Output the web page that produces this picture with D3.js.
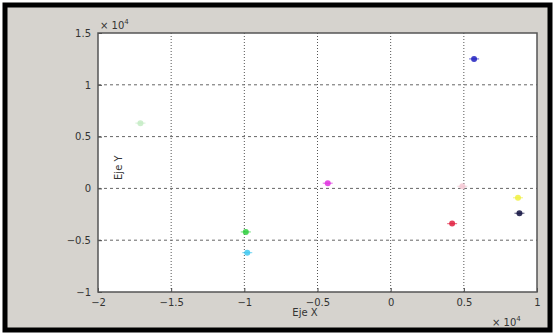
<!DOCTYPE html>
<html>
<head>
<meta charset="utf-8">
<script src="https://cdn.jsdelivr.net/npm/d3@7"></script>
<style>
  body { margin: 0; background: #fff; }
  text { font-family: "DejaVu Sans", Arial, sans-serif; fill: #333; }
</style>
</head>
<body>
<div id="chart"></div>
<script>
/* point positions in units of 1e4 */
var xVals = [-1.71, 0.57, -0.99, -0.98, -0.43, 0.49, 0.42, 0.87, 0.88];
var yVals = [0.63, 1.25, -0.42, -0.62, 0.05, 0.02, -0.34, -0.09, -0.24];
var colors = ["#c4ecc4", "#2020c0", "#30d040", "#40c8f0", "#e030e0", "#f4c8d4", "#e02040", "#f0f040", "#101040"];
var xTicks = [-2, -1.5, -1, -0.5, 0, 0.5, 1];
var yTicks = [-1, -0.5, 0, 0.5, 1, 1.5];

var W = 555, H = 333;
var margin = {top: 33, right: 18, bottom: 41, left: 98};

function translate(x, y) {
    return "translate(" + x + "," + y + ")";
}

var svg = d3.select("#chart").append("svg")
    .attr("width", W).attr("height", H);

/* gray window with black frame */
svg.append("rect")
    .attr("x", 5).attr("y", 5).attr("width", W - 10).attr("height", H - 8)
    .attr("fill", "#d6d3ce").attr("stroke", "#000").attr("stroke-width", 5);

var x = d3.scaleLinear().domain([-2, 1]).range([margin.left, W - margin.right]);
var y = d3.scaleLinear().domain([-1, 1.5]).range([H - margin.bottom, margin.top]);

svg.append("rect")
    .attr("x", x(-2)).attr("y", y(1.5))
    .attr("width", x(1) - x(-2)).attr("height", y(-1) - y(1.5))
    .attr("fill", "#fff");

/* grid */
svg.append("g").selectAll("line")
    .data(xTicks.slice(1, -1))
  .enter().append("line")
    .attr("x1", function(d) { return x(d); }).attr("x2", function(d) { return x(d); })
    .attr("y1", y(1.5)).attr("y2", y(-1))
    .attr("stroke", "#555").attr("stroke-dasharray", "1,2");

svg.append("g").selectAll("line")
    .data(yTicks.slice(1, -1))
  .enter().append("line")
    .attr("y1", function(d) { return y(d); }).attr("y2", function(d) { return y(d); })
    .attr("x1", x(-2)).attr("x2", x(1))
    .attr("stroke", "#666").attr("stroke-dasharray", "3,3");

/* axes */
var fmt = function(d) { return d3.format("")(d); };
svg.append("g")
    .attr("transform", translate(0, y(-1)))
    .call(d3.axisBottom(x).tickValues(xTicks).tickFormat(fmt).tickSize(-4).tickPadding(7))
    .call(function(g) { g.select(".domain").remove(); })
    .call(function(g) { g.selectAll("text").style("font-size", "10px"); });

svg.append("g")
    .attr("transform", translate(x(-2), 0))
    .call(d3.axisLeft(y).tickValues(yTicks).tickFormat(fmt).tickSize(-4).tickPadding(7))
    .call(function(g) { g.select(".domain").remove(); })
    .call(function(g) { g.selectAll("text").style("font-size", "10px"); });

svg.selectAll(".tick line").attr("stroke", "#444");

/* plot box */
svg.append("rect")
    .attr("x", x(-2)).attr("y", y(1.5))
    .attr("width", x(1) - x(-2)).attr("height", y(-1) - y(1.5))
    .attr("fill", "none").attr("stroke", "#555").attr("stroke-width", 1.5);

/* points */
var pts = svg.append("g").selectAll("g")
    .data(xVals)
  .enter().append("g")
    .attr("transform", function(d, i) { return translate(x(d), y(yVals[i])); });

pts.append("circle")
    .attr("r", 3)
    .attr("fill", function(d, i) { return colors[i]; })
    .attr("opacity", 0.85);

pts.append("line")
    .attr("x1", -5).attr("x2", 5)
    .attr("stroke", function(d, i) { return colors[i]; })
    .attr("stroke-width", 1.2).attr("opacity", 0.6);

/* labels */
svg.append("text")
    .attr("x", 305).attr("y", 316)
    .style("font-size", "10px").attr("text-anchor", "middle")
    .text("Eje X");

svg.append("text")
    .attr("transform", translate(122, y(0.2)) + " rotate(-90)")
    .style("font-size", "10px").attr("text-anchor", "middle")
    .text("Eje Y");

function expLabel(px, py) {
    var t = svg.append("text").attr("x", px).attr("y", py).style("font-size", "10px");
    t.append("tspan").text("\u00d7 10");
    t.append("tspan").attr("dy", -5).style("font-size", "7px").text("4");
}
expLabel(100, 29);
expLabel(492, 326);
</script>
</body>
</html>
